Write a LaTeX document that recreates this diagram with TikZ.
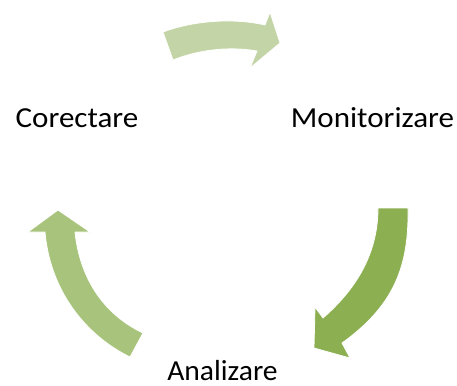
\documentclass[tikz,border=0pt]{standalone}
\usepackage{fontspec}
\setmainfont{Carlito}
\definecolor{topgreen}{HTML}{C3D5A6}
\definecolor{rightgreen}{HTML}{8CAF52}
\definecolor{leftgreen}{HTML}{A8C47C}
\newcommand{\widetext}[1]{\scalebox{1.07}[1]{#1}}
\tikzset{
  cyclearrow/.style={draw=white, line width=0.8pt, line join=miter},
  label/.style={font=\fontsize{29}{33}\selectfont, text=black, inner sep=0pt, anchor=base}
}
\begin{document}
\begin{tikzpicture}[x=1pt,y=-1pt]
\useasboundingbox (0,0) rectangle (457,385);
% top arrow
\fill[topgreen, cyclearrow] (163,32) .. controls (195,20) and (235,18) .. (265,25)
  -- (270,12) -- (280,43) -- (250,68) -- (257,51)
  .. controls (228,46) and (198,50) .. (173,60) -- cycle;
% right arrow
\fill[rightgreen, cyclearrow] (378,208) -- (408,208)
  .. controls (409,265) and (395,305) .. (342,343)
  -- (350,358) -- (314,348) -- (315,307) -- (323,318)
  .. controls (355,290) and (378,255) .. (378,208) -- cycle;
% left arrow
\fill[leftgreen, cyclearrow] (45,232) -- (28,232) -- (58,210) -- (90,232) -- (75,232)
  .. controls (80,280) and (105,315) .. (143,333) -- (130,357)
  .. controls (85,335) and (50,290) .. (45,232) -- cycle;
% labels
\node[label] (cor) at (77,127.5) {\widetext{Corectare}};
\node[label] (mon) at (372.5,127.5) {\widetext{Monitorizare}};
\node[label] (ana) at (222.5,380.5) {\scalebox{1.02}[1]{Analizare}};
\end{tikzpicture}
\end{document}
